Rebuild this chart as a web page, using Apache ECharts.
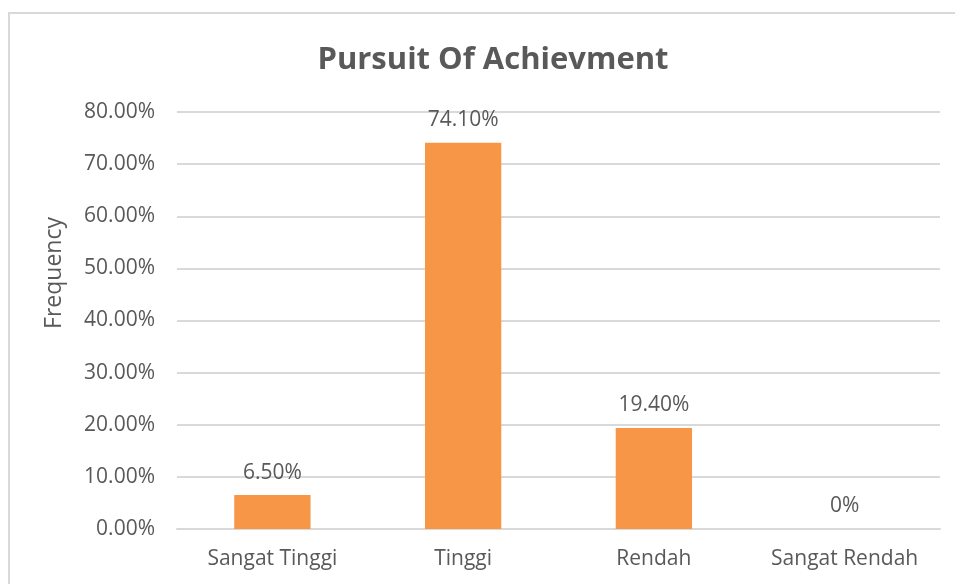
<!DOCTYPE html>
<html>
<head>
<meta charset="utf-8">
<script src="https://cdn.jsdelivr.net/npm/echarts@6/dist/echarts.min.js"></script>
<style>
  html, body { margin: 0; padding: 0; background: #fff; }
  #chart { width: 955px; height: 584px; }
</style>
</head>
<body>
<div id="chart"></div>
<script>
// data
const categories = ['Sangat Tinggi', 'Tinggi', 'Rendah', 'Sangat Rendah']
const frequency = [6.5, 74.1, 19.4, 0]

const chart = echarts.init(document.getElementById('chart'))
const font = 'Open Sans'
const grey = '#595959'

const option = {
  backgroundColor: '#fff',
  animation: false,
  textStyle: { fontFamily: font },
  title: {
    text: 'Pursuit Of Achievment',
    left: 488,
    textAlign: 'center',
    top: 40,
    textStyle: { fontSize: 31, fontWeight: 'bold', color: grey, fontFamily: font }
  },
  graphic: [
    // outer frame of the chart area
    {
      type: 'rect',
      shape: { x: 9, y: 13, width: 980, height: 620 },
      style: { fill: 'none', stroke: '#d9d9d9', lineWidth: 2 },
      silent: true
    },
    // y axis title, sits above the plot middle like in the original
    {
      type: 'text',
      x: 54,
      y: 273,
      rotation: Math.PI / 2,
      style: {
        text: 'Frequency',
        fontSize: 23,
        fontFamily: font,
        fill: grey,
        align: 'center',
        verticalAlign: 'middle'
      }
    }
  ],
  grid: { left: 177, right: 15, top: 112, bottom: 55 },
  xAxis: {
    type: 'category',
    data: categories,
    axisLine: { lineStyle: { color: '#d9d9d9', width: 2 } },
    axisTick: { show: false },
    axisLabel: { interval: 0, color: grey, fontSize: 21, margin: 20, fontFamily: font }
  },
  yAxis: {
    type: 'value',
    min: 0,
    max: 80,
    interval: 10,
    axisLine: { show: false },
    axisTick: { show: false },
    splitLine: { lineStyle: { color: '#d9d9d9', width: 2 } },
    axisLabel: {
      color: grey,
      fontSize: 21,
      margin: 22,
      fontFamily: font,
      formatter: (v) => v.toFixed(2) + '%'
    }
  },
  series: [{
    type: 'bar',
    data: frequency,
    barWidth: '40%',
    itemStyle: { color: '#F79646' },
    label: {
      show: true,
      position: 'top',
      distance: 12,
      color: grey,
      fontSize: 21,
      fontFamily: font,
      formatter: (p) => p.value === 0 ? '0%' : p.value.toFixed(2) + '%'
    }
  }]
}

chart.setOption(option)
</script>
</body>
</html>
